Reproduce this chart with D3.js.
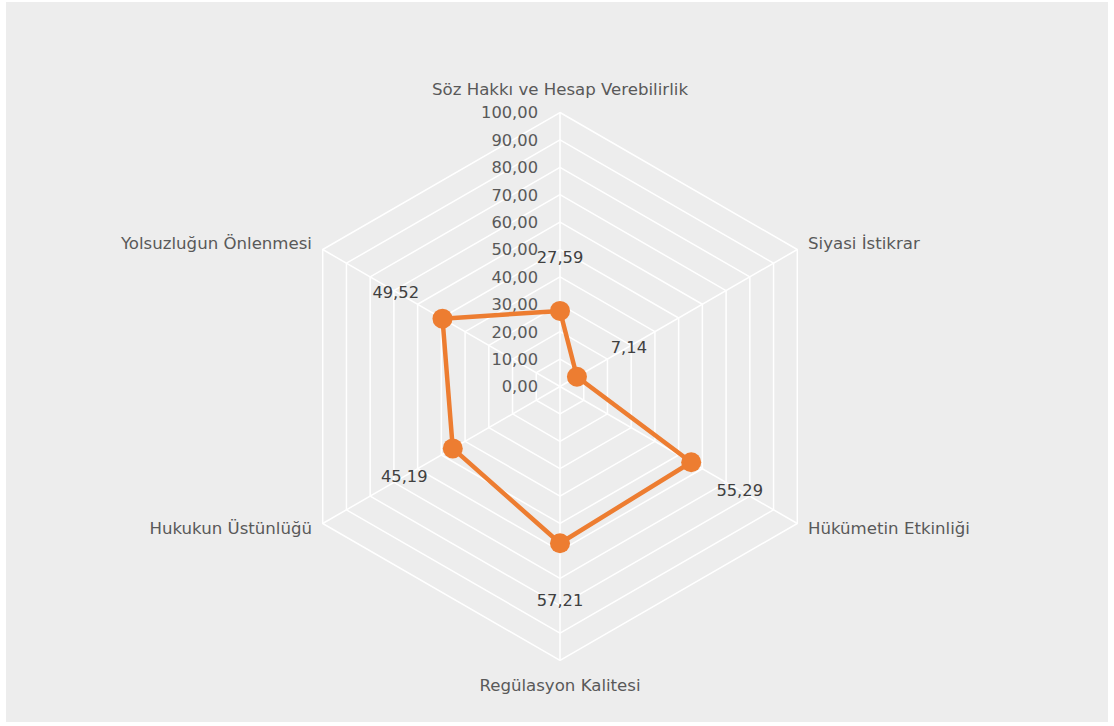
<!DOCTYPE html>
<html>
<head>
<meta charset="utf-8">
<script src="https://cdn.jsdelivr.net/npm/d3@7"></script>
<style>
  body { margin: 0; background: #fff; }
  text { font-family: "DejaVu Sans", Verdana, sans-serif; }
</style>
</head>
<body>
<div id="chart"></div>
<script>
// categories, values and axis ticks
var categories = ["Söz Hakkı ve Hesap Verebilirlik", "Siyasi İstikrar", "Hükümetin Etkinliği",
                  "Regülasyon Kalitesi", "Hukukun Üstünlüğü", "Yolsuzluğun Önlenmesi"];
var values = [27.59, 7.14, 55.29, 57.21, 45.19, 49.52];
var ticks = [0, 10, 20, 30, 40, 50, 60, 70, 80, 90, 100];

var width = 1114, height = 726;
var cx = 560, cy = 386.5, R = 274;
var orange = "#ED7D31";
var fmt = function(v){ return d3.format(".2f")(v).replace(".", ","); };

var svg = d3.select("#chart").append("svg")
  .attr("width", width).attr("height", height);

svg.append("rect")
  .attr("x", 6).attr("y", 2).attr("width", 1102).attr("height", 720)
  .attr("fill", "#EDEDED");

var r = d3.scaleLinear().domain([0, 100]).range([0, R]);
var angle = function(i){ return i * 2 * Math.PI / categories.length; };
// point at value v on spoke i (0 = top, clockwise)
function pt(i, v) {
  return [cx + r(v) * Math.sin(angle(i)), cy - r(v) * Math.cos(angle(i))];
}

var g = svg.append("g");

// grid hexagons
g.selectAll("path.grid")
  .data(ticks.slice(1))
  .enter().append("path")
  .attr("class", "grid")
  .attr("d", function(t){
    return d3.line()(categories.map(function(c, i){ return pt(i, t); })) + "Z";
  })
  .attr("fill", "none")
  .attr("stroke", "#fff")
  .attr("stroke-width", 1.5);

// spokes
g.selectAll("line.spoke")
  .data(categories)
  .enter().append("line")
  .attr("class", "spoke")
  .attr("x1", cx).attr("y1", cy)
  .attr("x2", function(d, i){ return pt(i, 100)[0]; })
  .attr("y2", function(d, i){ return pt(i, 100)[1]; })
  .attr("stroke", "#fff")
  .attr("stroke-width", 1.5);

// tick labels
g.selectAll("text.tick")
  .data(ticks)
  .enter().append("text")
  .attr("class", "tick")
  .attr("x", cx - 22)
  .attr("y", function(t){ return cy - r(t); })
  .attr("dy", "0.36em")
  .attr("text-anchor", "end")
  .attr("font-size", 16.3)
  .attr("fill", "#595959")
  .text(fmt);

// category labels
var catPos = [
  {x: cx, y: 95, anchor: "middle"},
  {x: 808, y: 249, anchor: "start"},
  {x: 808, y: 534, anchor: "start"},
  {x: cx, y: 691, anchor: "middle"},
  {x: 312, y: 534, anchor: "end"},
  {x: 312, y: 249, anchor: "end"}
];
g.selectAll("text.cat")
  .data(categories)
  .enter().append("text")
  .attr("class", "cat")
  .attr("x", function(d, i){ return catPos[i].x; })
  .attr("y", function(d, i){ return catPos[i].y; })
  .attr("text-anchor", function(d, i){ return catPos[i].anchor; })
  .attr("font-size", 16.6)
  .attr("fill", "#595959")
  .text(function(d){ return d; });

// series line
var pts = values.map(function(v, i){ return pt(i, v); });
g.append("path")
  .attr("d", d3.line()(pts) + "Z")
  .attr("fill", "none")
  .attr("stroke", orange)
  .attr("stroke-width", 4.5)
  .attr("stroke-linejoin", "round");

g.selectAll("circle.dot")
  .data(pts)
  .enter().append("circle")
  .attr("class", "dot")
  .attr("cx", function(d){ return d[0]; })
  .attr("cy", function(d){ return d[1]; })
  .attr("r", 10)
  .attr("fill", orange);

// data labels, pushed out along the spoke
var labOff = [54, 60, 56, 57, 56, 54];
g.selectAll("text.val")
  .data(values)
  .enter().append("text")
  .attr("class", "val")
  .attr("x", function(v, i){ return cx + (r(v) + labOff[i]) * Math.sin(angle(i)); })
  .attr("y", function(v, i){ return cy - (r(v) + labOff[i]) * Math.cos(angle(i)); })
  .attr("dy", "0.36em")
  .attr("text-anchor", "middle")
  .attr("font-size", 16.3)
  .attr("fill", "#404040")
  .text(fmt);
</script>
</body>
</html>
